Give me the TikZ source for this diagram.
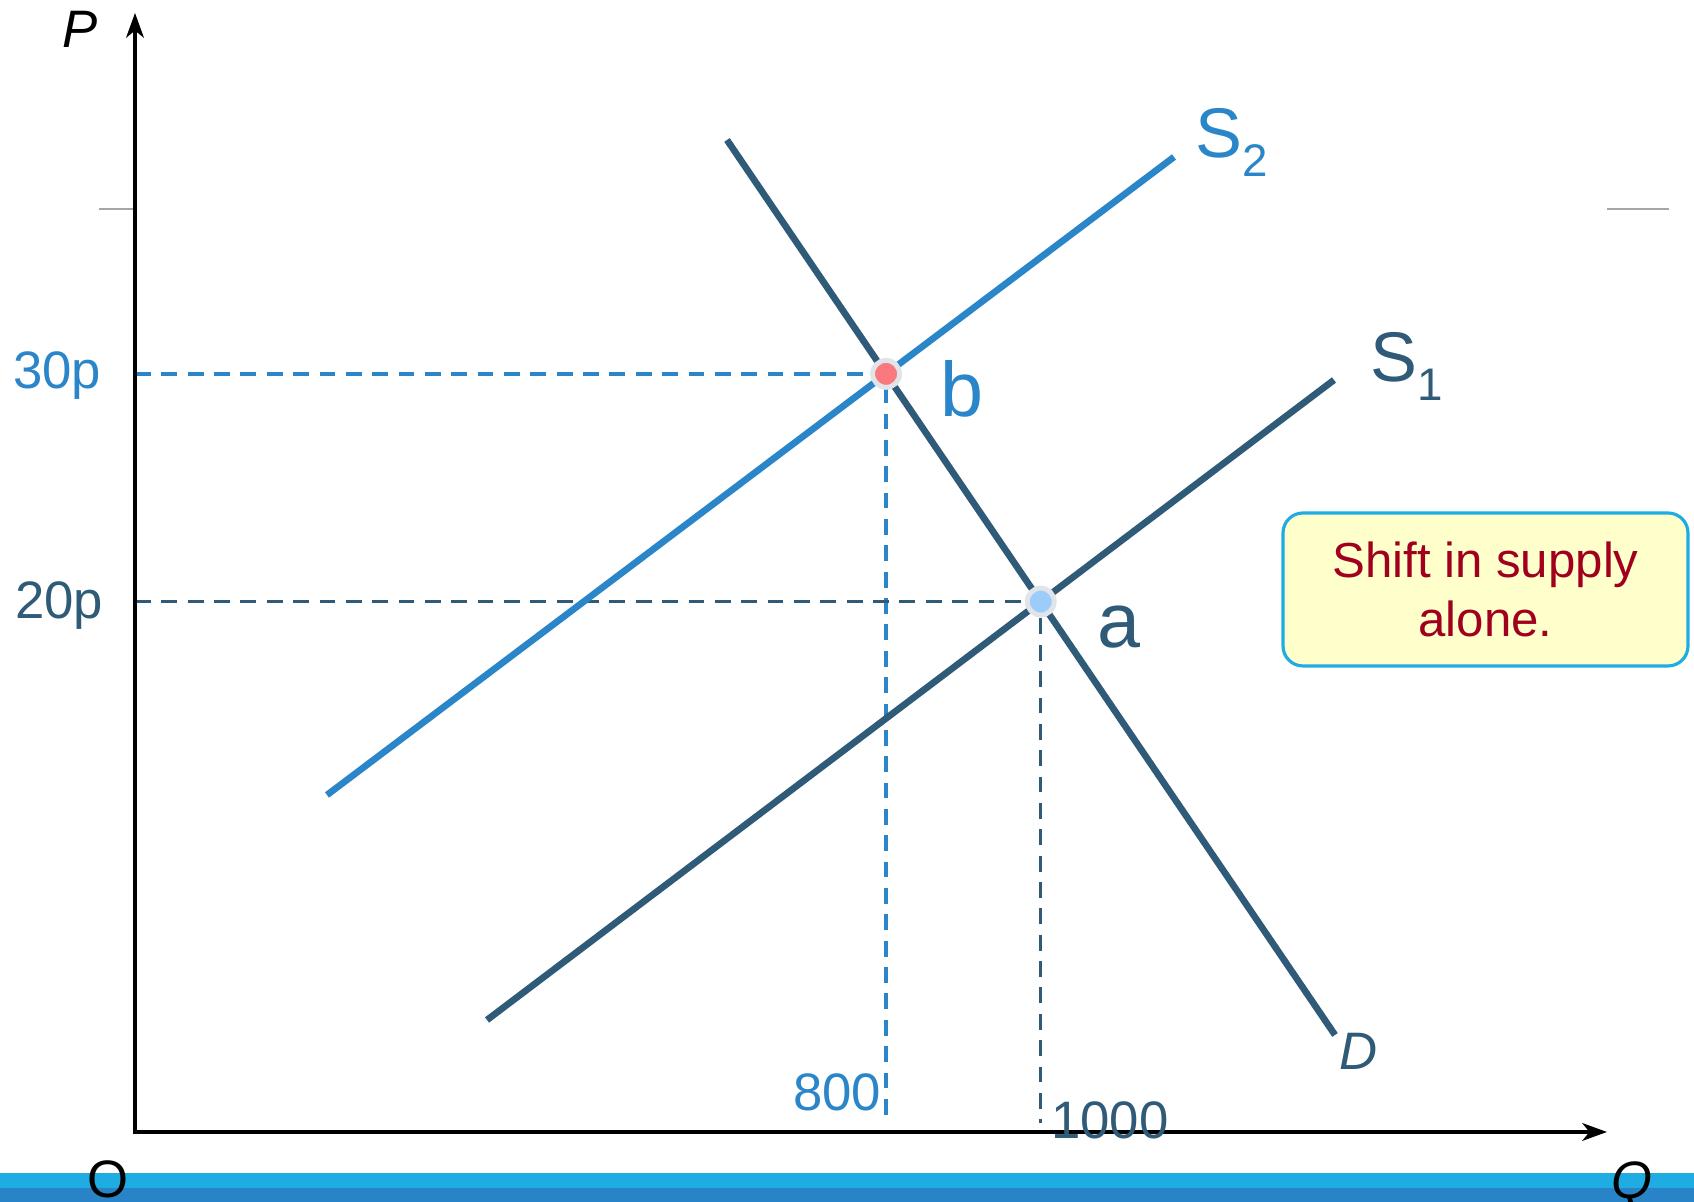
\documentclass[tikz,border=0pt]{standalone}
\usepackage{fontspec}
\setmainfont{Liberation Sans}
\usetikzlibrary{arrows.meta}

\definecolor{supblue}{HTML}{2A86C8}
\definecolor{supdark}{HTML}{2F5B78}
\definecolor{barlight}{HTML}{1FACE3}
\definecolor{bardark}{HTML}{2884C6}
\definecolor{notered}{HTML}{A0001E}
\definecolor{noteyellow}{HTML}{FFFFCC}
\definecolor{ringgray}{HTML}{E1E5EA}
\definecolor{ptred}{HTML}{F87A7E}
\definecolor{ptblue}{HTML}{9CCDFA}

\begin{document}
\begin{tikzpicture}[every node/.style={inner sep=0pt},
        guide/.style={dash pattern=on 4.5pt off 3pt, line width=0.95pt},
        curve/.style={line width=1.9pt},
        eqpoint/.style={draw=ringgray, line width=1.4pt},
        notebox/.style={draw=barlight, line width=0.9pt, fill=noteyellow, rounded corners=0.2cm,
                minimum width=4.05cm, minimum height=1.53cm, align=center, text=notered,
                font=\fontsize{14}{16.8}\selectfont}]
        
        \useasboundingbox (0,0) rectangle (16.94,12.02);
        
        \fill [barlight] (0,0.14) rectangle (16.94,0.29);
        \fill [bardark] (0,0) rectangle (16.94,0.14);
        
        \coordinate (orig) at (1.35,0.70);
        \coordinate (ptop) at (1.35,11.89);
        \coordinate (qend) at (16.07,0.70);
        
        \coordinate (d1) at (7.27,10.62);
        \coordinate (d2) at (13.35,1.67);
        \coordinate (sa1) at (4.87,1.82);
        \coordinate (sa2) at (13.34,8.22);
        \coordinate (sb1) at (3.27,4.07);
        \coordinate (sb2) at (11.74,10.45);
        
        \coordinate (b) at (intersection of d1--d2 and sb1--sb2);
        \coordinate (a) at (intersection of d1--d2 and sa1--sa2);
        
        \begin{scope}[line width=0.4pt, gray!70]
        \draw (0.99,9.93) -- (1.35,9.93);
        \draw (16.07,9.93) -- (16.69,9.93);
        \end{scope}
        
        \begin{scope}[guide]
        \draw [supblue] (orig |- b) -- (b) -- (b |- 0,0.82);
        \draw [supdark] (orig |- a) -- (a) -- (a |- 0,0.79);
        \end{scope}
        
        \draw [line width=1.1pt, {Stealth[length=7pt, width=5pt, inset=2pt]}-{Stealth[length=7pt, width=5pt, inset=2pt]}] (ptop) -- (orig) -- (qend);
        
        \begin{scope}[curve]
        \draw [supdark] (d1) -- (d2);
        \draw [supdark] (sa1) -- (sa2);
        \draw [supblue] (sb1) -- (sb2);
        \end{scope}
        
        \filldraw [eqpoint, fill=ptred] (b) circle (0.135);
        \filldraw [eqpoint, fill=ptblue] (a) circle (0.135);
        
        \node (plab) at (0.80,11.73) {\fontsize{15}{18}\selectfont\itshape P};
        \node (olab) at (1.08,0.23) {\fontsize{15}{18}\selectfont O};
        \node (qlab) at (16.32,0.17) {\fontsize{15}{18}\selectfont\itshape Q};
        
        \node [supblue] (p30) at (0.57,8.26) {\fontsize{15}{18}\selectfont 30p};
        \node [supdark] (p20) at (0.59,5.96) {\fontsize{15}{18}\selectfont 20p};
        \node [supblue] (q800) at (8.37,1.10) {\fontsize{15}{18}\selectfont 800};
        \node [supdark] (q1000) at (11.10,0.82) {\fontsize{15}{18}\selectfont 1000};
        
        \node [supblue] (blab) at (9.62,8.13) {\fontsize{22}{26}\selectfont b};
        \node [supdark] (alab) at (11.19,5.75) {\fontsize{22}{26}\selectfont a};
        \node [supblue] (s2lab) at (12.32,10.60) {\fontsize{20}{24}\selectfont S\raisebox{-0.19cm}{\fontsize{13}{15}\selectfont 2}};
        \node [supdark] (s1lab) at (14.07,8.36) {\fontsize{20}{24}\selectfont S\raisebox{-0.19cm}{\fontsize{13}{15}\selectfont 1}};
        \node [supdark] (dlab) at (13.59,1.51) {\fontsize{15}{18}\selectfont\itshape D};
        
        \node [notebox] (note) at (14.855,6.125) {Shift in supply\\alone.};
        
        \end{tikzpicture}
\end{document}
